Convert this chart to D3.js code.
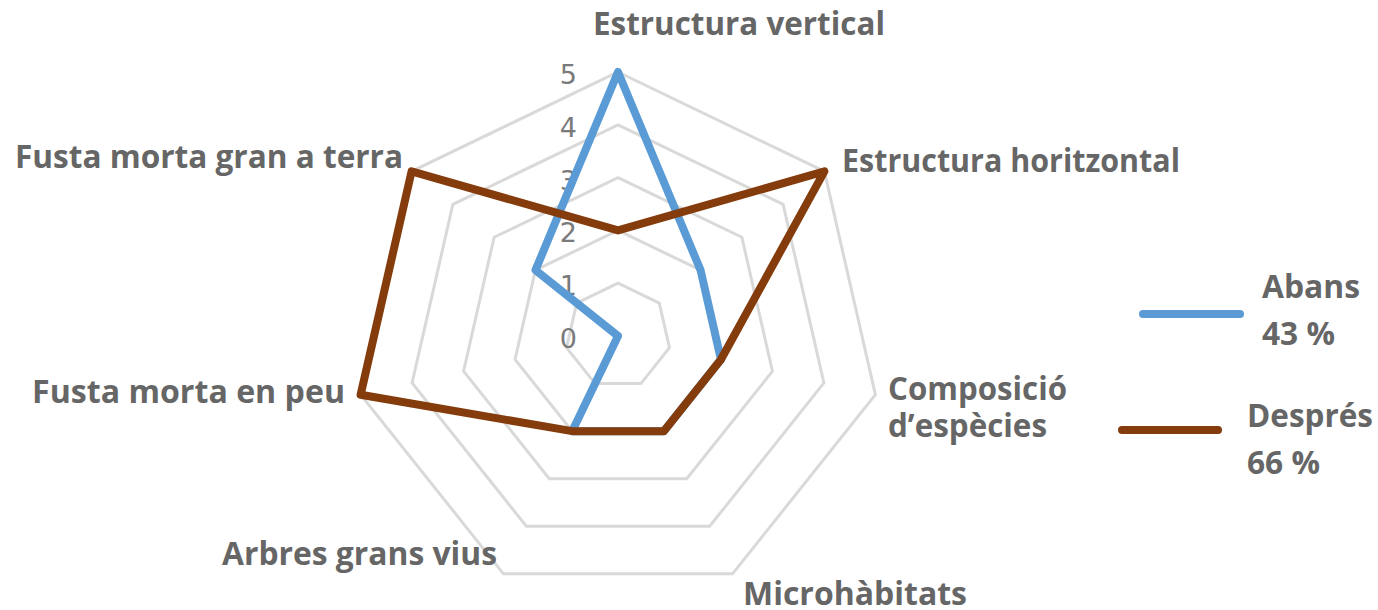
<!DOCTYPE html>
<html>
<head>
<meta charset="utf-8">
<script src="https://cdn.jsdelivr.net/npm/d3@7"></script>
<style>
  body { margin: 0; background: #fff; }
  svg { display: block; }
</style>
</head>
<body>
<div id="chart"></div>
<script>
// data
const categories = [
  "Estructura vertical",
  "Estructura horitzontal",
  "Composició d’espècies",
  "Microhàbitats",
  "Arbres grans vius",
  "Fusta morta en peu",
  "Fusta morta gran a terra"
];
const abans = [5, 2, 2, 2, 2, 0, 2];
const despres = [2, 5, 2, 2, 2, 5, 5];
const seriesNames = ["Abans", "Després"];
const seriesShares = ["43 %", "66 %"];
const ticks = [0, 1, 2, 3, 4, 5];

const width = 1378, height = 610;
const cx = 618, cy = 336;
const colors = ["#5b9bd5", "#843c0c"];
const labelFont = "'Open Sans', sans-serif";

const svg = d3.select("#chart").append("svg")
  .attr("width", width)
  .attr("height", height);

const r = d3.scaleLinear().domain([0, 5]).range([0, 264]);
const angle = d3.scaleLinear().domain([0, categories.length]).range([0, 2 * Math.PI]);

const radial = d3.lineRadial()
  .angle((d, i) => angle(i))
  .radius(d => r(d))
  .curve(d3.curveLinearClosed);

const g = svg.append("g").attr("transform", `translate(${cx},${cy})`);

// grid rings
g.append("g").selectAll("path")
  .data(ticks.filter(t => t > 0))
  .join("path")
  .attr("d", t => radial(categories.map(() => t)))
  .attr("fill", "none")
  .attr("stroke", "#d9d9d9")
  .attr("stroke-width", 3);

// value labels
g.append("g").selectAll("text")
  .data(ticks)
  .join("text")
  .attr("x", -41)
  .attr("y", t => -r(t) + 12)
  .attr("text-anchor", "end")
  .attr("font-family", "'DejaVu Sans', sans-serif")
  .attr("font-size", 27)
  .attr("fill", "#7a7a7a")
  .text(d => d);

// series
[abans, despres].forEach((vals, k) => {
  g.append("path")
    .attr("d", radial(vals))
    .attr("fill", "none")
    .attr("stroke", colors[k])
    .attr("stroke-width", 8)
    .attr("stroke-linejoin", "round");
});

// category labels (placed like the original)
const labelLayout = [
  [{ x: 593, y: 35, w: 292 }],
  [{ x: 842, y: 172, w: 338 }],
  [{ x: 888, y: 400, w: 179 }, { x: 888, y: 437, w: 159 }],
  [{ x: 743, y: 605, w: 224 }],
  [{ x: 222, y: 565, w: 275 }],
  [{ x: 32, y: 403, w: 313 }],
  [{ x: 15, y: 168, w: 388 }]
];

function boldText(x, y, w, str) {
  svg.append("text")
    .attr("x", x)
    .attr("y", y)
    .attr("font-family", labelFont)
    .attr("font-weight", 700)
    .attr("font-size", 32)
    .attr("fill", "#666666")
    .attr("textLength", w)
    .attr("lengthAdjust", "spacingAndGlyphs")
    .text(str);
}

categories.forEach((c, i) => {
  const lines = labelLayout[i].length > 1 ? c.split(" ") : [c];
  labelLayout[i].forEach((p, j) => boldText(p.x, p.y, p.w, lines[j]));
});

// legend
const legendLayout = [
  { x1: 1143, x2: 1240, y: 314, tx: 1262, ty: 298, w1: 98, w2: 73 },
  { x1: 1122, x2: 1218, y: 430, tx: 1247, ty: 427, w1: 126, w2: 73 }
];
seriesNames.forEach((name, k) => {
  const L = legendLayout[k];
  svg.append("line")
    .attr("x1", L.x1).attr("x2", L.x2)
    .attr("y1", L.y).attr("y2", L.y)
    .attr("stroke", colors[k])
    .attr("stroke-width", 8)
    .attr("stroke-linecap", "round");
  boldText(L.tx, L.ty, L.w1, name);
  boldText(L.tx, L.ty + 47, L.w2, seriesShares[k]);
});
</script>
</body>
</html>
